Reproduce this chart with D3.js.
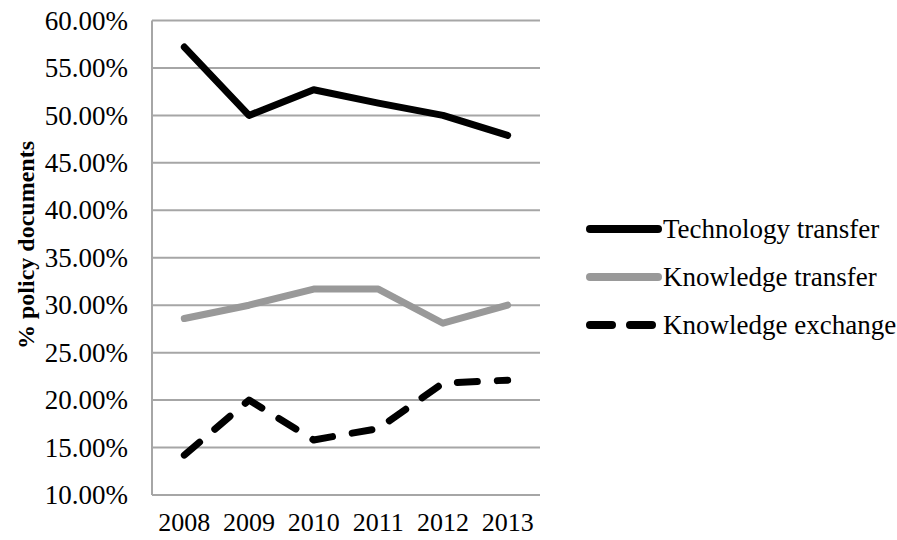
<!DOCTYPE html>
<html><head><meta charset="utf-8">
<script src="https://cdn.jsdelivr.net/npm/d3@7"></script>
<style>body{margin:0;background:#fff}svg{display:block}</style>
</head><body>
<svg id="c" width="897" height="540"></svg>
<script>
const years = ["2008","2009","2010","2011","2012","2013"];
const techTransfer = [57.2, 50.0, 52.7, 51.3, 50.0, 47.9];
const knowTransfer = [28.6, 30.0, 31.7, 31.7, 28.1, 30.0];
const knowExchange = [14.2, 20.0, 15.8, 17.0, 21.8, 22.1];
const yTicks = [10,15,20,25,30,35,40,45,50,55,60];
const seriesNames = ["Technology transfer","Knowledge transfer","Knowledge exchange"];

const series = [
  {name: seriesNames[0], values: techTransfer, color: "#000", width: 7, dash: null},
  {name: seriesNames[1], values: knowTransfer, color: "#999999", width: 7, dash: null},
  {name: seriesNames[2], values: knowExchange, color: "#000", width: 7, dash: "20 20"}
];

const FONT = '"Liberation Serif"';
const svg = d3.select("#c");
const L = 152, R = 540, T = 20.5, B = 495;
const x = d3.scaleBand().domain(years).range([L, R]);
const y = d3.scaleLinear().domain([10, 60]).range([B, T]);

svg.append("g").selectAll("line").data(yTicks).join("line")
  .attr("x1", L).attr("x2", R)
  .attr("y1", d => y(d)).attr("y2", d => y(d))
  .attr("stroke", "#a6a6a6").attr("stroke-width", 2);
svg.append("line").attr("x1", L).attr("x2", L).attr("y1", T).attr("y2", B)
  .attr("stroke", "#a6a6a6").attr("stroke-width", 2);

function styleText(sel, size, bold) {
  sel.style("font-family", FONT).style("font-size", size + "px")
     .style("font-weight", bold ? "bold" : "normal").attr("fill", "#000");
}

const yAxis = d3.axisLeft(y).tickValues(yTicks).tickSize(0).tickPadding(24)
  .tickFormat(d => d.toFixed(2) + "%");
const ga = svg.append("g").attr("transform", `translate(${L},0)`).call(yAxis);
ga.attr("font-family", null).attr("font-size", null);
ga.select(".domain").remove();
ga.selectAll("text").call(styleText, 27);

const xAxis = d3.axisBottom(x).tickSize(0).tickPadding(18);
const gx = svg.append("g").attr("transform", `translate(0,${B})`).call(xAxis);
gx.attr("font-family", null).attr("font-size", null);
gx.select(".domain").remove();
gx.selectAll("text").call(styleText, 26);

svg.append("text").attr("transform", "translate(34,245) rotate(-90)")
  .attr("text-anchor", "middle").call(styleText, 24, true).text("% policy documents");

const line = d3.line().x((d,i) => x(years[i]) + x.bandwidth()/2).y(d => y(d));
series.forEach(s => {
  svg.append("path").attr("d", line(s.values)).attr("fill", "none")
    .attr("stroke", s.color).attr("stroke-width", s.width)
    .attr("stroke-linecap", "round").attr("stroke-linejoin", "round")
    .attr("stroke-dasharray", s.dash);
});

const lg = svg.append("g");
series.forEach((s, i) => {
  const ly = 229 + i * 48;
  lg.append("line").attr("x1", 590).attr("x2", 658).attr("y1", ly).attr("y2", ly)
    .attr("stroke", s.color).attr("stroke-width", s.width + 1)
    .attr("stroke-linecap", "round").attr("stroke-dasharray", s.dash ? "22 18" : null);
  lg.append("text").attr("x", 663).attr("y", ly).attr("dy", "0.35em")
    .call(styleText, 27).text(s.name);
});
</script>
</body></html>
